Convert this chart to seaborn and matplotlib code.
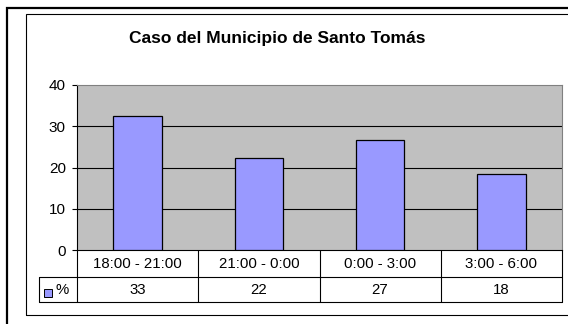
import matplotlib
matplotlib.use("Agg")
import matplotlib.pyplot as plt
from matplotlib.transforms import blended_transform_factory
from matplotlib.patches import Rectangle
from matplotlib.lines import Line2D
import seaborn as sns
import pandas as pd

# Data
title = "Caso del Municipio de Santo Tomás"
categories = ["18:00 - 21:00", "21:00 - 0:00", "0:00 - 3:00", "3:00 - 6:00"]
values = [32.6, 22.4, 26.6, 18.4]
series_name = "%"
y_ticks = [0, 10, 20, 30, 40]

df = pd.DataFrame({"franja": categories, "pct": values})

sns.set_theme(style="white")
plt.rcParams["font.family"] = ["Liberation Sans", "DejaVu Sans"]

W, H = 568, 324
fig = plt.figure(figsize=(W / 100, H / 100), dpi=100)
fig.patch.set_facecolor("white")


def fx(px):
    return px / W


def fy(py):
    return 1 - py / H


# Plot area in pixel coordinates
L, R, T, B = 77, 562, 85, 250
ax = fig.add_axes([fx(L), fy(B), fx(R - L), (B - T) / H])
ax.set_facecolor("#C0C0C0")

sns.barplot(data=df, x="franja", y="pct", color="#9999FF", saturation=1,
            edgecolor="black", linewidth=0.9, width=0.4, ax=ax, zorder=3)

ax.set_xlim(-0.5, len(categories) - 0.5)
ax.set_ylim(0, 40)
ax.set_yticks(y_ticks)
ax.set_xticks([])
ax.set_xlabel("")
ax.set_ylabel("")
for v in y_ticks[1:-1]:
    ax.axhline(v, color="black", linewidth=0.8, zorder=1)
ax.tick_params(axis="y", direction="out", length=3.6, width=0.8, pad=4.5,
               labelsize=11, colors="black", left=True)
for s in ["top", "right"]:
    ax.spines[s].set_color("#808080")
    ax.spines[s].set_linewidth(0.8)
ax.spines["left"].set_color("black")
ax.spines["left"].set_linewidth(0.8)
ax.spines["bottom"].set_color("black")
ax.spines["bottom"].set_linewidth(0.8)

# Title
fig.text(fx(277), fy(38), title, ha="center", va="center",
         fontsize=12.5, fontweight="bold", color="black")

# Data table under the plot
tr = blended_transform_factory(ax.transData, fig.transFigure)
row1, row2, row3 = 250, 277, 302
legend_left = 39
lw = 0.8
edges = [i - 0.5 for i in range(len(categories) + 1)]
for e in edges:
    fig.add_artist(Line2D([e, e], [fy(row1), fy(row3)], transform=tr,
                          color="black", linewidth=lw))
for ry in (row2, row3):
    fig.add_artist(Line2D([fx(legend_left), fx(R)], [fy(ry), fy(ry)],
                          color="black", linewidth=lw))
fig.add_artist(Line2D([fx(legend_left), fx(legend_left)], [fy(row2), fy(row3)],
                      color="black", linewidth=lw))

for i, (cat, val) in enumerate(zip(categories, values)):
    fig.text(i, fy((row1 + row2) / 2), cat, transform=tr, ha="center",
             va="center", fontsize=10.8, color="black")
    fig.text(i, fy((row2 + row3) / 2), f"{val:.0f}", transform=tr,
             ha="center", va="center", fontsize=10.8, color="black")

# Legend key in the table
fig.add_artist(Rectangle((fx(44), fy(297)), fx(8), 8 / H, facecolor="#9999FF",
                         edgecolor="black", linewidth=0.7))
fig.text(fx(56), fy((row2 + row3) / 2), series_name, ha="left", va="center",
         fontsize=10.8, color="black")

# Chart frames
fig.add_artist(Rectangle((fx(26), fy(315)), fx(W), (315 - 14) / H,
                         facecolor="none", edgecolor="black", linewidth=0.8))
fig.add_artist(Rectangle((fx(7), fy(H + 10)), fx(W), (H + 10 - 8) / H,
                         facecolor="none", edgecolor="black", linewidth=1.6))

fig.savefig("out.png", dpi=100)
